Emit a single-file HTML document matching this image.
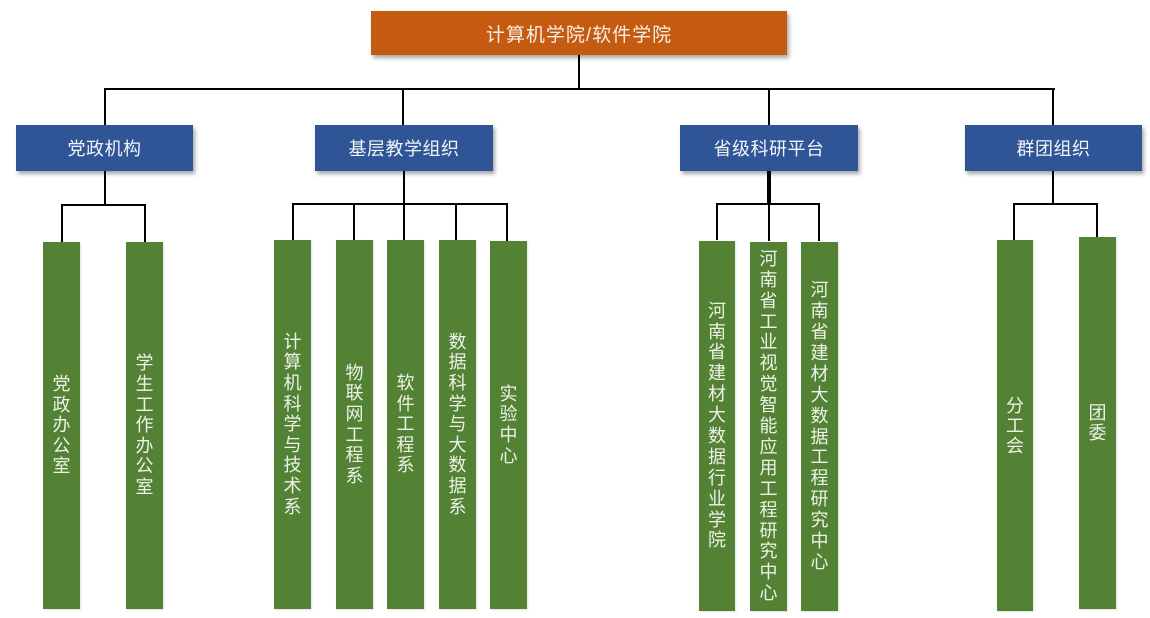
<!DOCTYPE html>
<html>
<head>
<meta charset="utf-8">
<style>
  html,body{margin:0;padding:0;background:#fff;}
  body{width:1150px;height:618px;position:relative;overflow:hidden;
       font-family:"Liberation Sans","Noto Sans CJK SC",sans-serif;}
  .ln{position:absolute;background:#000;}
  .top{position:absolute;left:371px;top:11px;width:416px;height:44px;background:#C55A11;
       box-shadow:2px 3px 4px rgba(0,0,0,0.35);color:#f8efe6;font-size:19px;letter-spacing:1px;
       display:flex;align-items:center;justify-content:center;}
  .blue{position:absolute;top:125px;height:46px;background:#2F5597;
        box-shadow:2px 3px 4px rgba(0,0,0,0.35);color:#f2f4f8;font-size:18px;
        display:flex;align-items:center;justify-content:center;letter-spacing:0.5px;}
  .g{position:absolute;background:#548235;box-shadow:1px 1px 2px rgba(0,0,0,0.12);
     display:flex;align-items:center;justify-content:center;}
  .g span{display:block;width:18px;font-size:18px;color:#edf2e8;word-break:break-all;text-align:center;}
  .a span{line-height:20.6px;}
  .c span{line-height:20px;}
  .v{display:flex;flex-direction:column;align-items:center;color:#edf2e8;font-size:18px;}
  .v i{display:block;font-style:normal;width:18px;text-align:center;overflow:visible;height:20.9px;line-height:20.9px;}
</style>
</head>
<body>
<!-- top box -->
<div class="top">计算机学院/软件学院</div>

<!-- top connectors -->
<div class="ln" style="left:578px;top:55px;width:2px;height:35px;"></div>
<div class="ln" style="left:104px;top:88px;width:951px;height:2px;"></div>
<div class="ln" style="left:104px;top:88px;width:2px;height:37px;"></div>
<div class="ln" style="left:402px;top:88px;width:2px;height:37px;"></div>
<div class="ln" style="left:768px;top:88px;width:2px;height:37px;"></div>
<div class="ln" style="left:1052px;top:88px;width:2px;height:37px;"></div>

<!-- blue boxes -->
<div class="blue" style="left:16px;width:177px;">党政机构</div>
<div class="blue" style="left:315px;width:178px;">基层教学组织</div>
<div class="blue" style="left:680px;width:178px;">省级科研平台</div>
<div class="blue" style="left:965px;width:177px;">群团组织</div>

<!-- 党政 connectors -->
<div class="ln" style="left:104px;top:171px;width:2px;height:35px;"></div>
<div class="ln" style="left:61px;top:204px;width:85px;height:2px;"></div>
<div class="ln" style="left:61px;top:204px;width:2px;height:38px;"></div>
<div class="ln" style="left:144px;top:204px;width:2px;height:38px;"></div>

<!-- 基层 connectors -->
<div class="ln" style="left:403px;top:171px;width:2px;height:34px;"></div>
<div class="ln" style="left:292px;top:203px;width:216px;height:2px;"></div>
<div class="ln" style="left:292px;top:203px;width:2px;height:37px;"></div>
<div class="ln" style="left:353px;top:203px;width:2px;height:38px;"></div>
<div class="ln" style="left:403px;top:203px;width:2px;height:38px;"></div>
<div class="ln" style="left:455px;top:203px;width:2px;height:38px;"></div>
<div class="ln" style="left:506px;top:203px;width:2px;height:38px;"></div>

<!-- 省级 connectors -->
<div class="ln" style="left:767px;top:171px;width:4px;height:34px;"></div>
<div class="ln" style="left:716px;top:203px;width:104px;height:2px;"></div>
<div class="ln" style="left:716px;top:203px;width:2px;height:37px;"></div>
<div class="ln" style="left:768px;top:203px;width:2px;height:38px;"></div>
<div class="ln" style="left:818px;top:203px;width:2px;height:38px;"></div>

<!-- 群团 connectors -->
<div class="ln" style="left:1052px;top:171px;width:2px;height:34px;"></div>
<div class="ln" style="left:1013px;top:203px;width:85px;height:2px;"></div>
<div class="ln" style="left:1013px;top:203px;width:2px;height:37px;"></div>
<div class="ln" style="left:1096px;top:203px;width:2px;height:34px;"></div>

<!-- green boxes: 党政 -->
<div class="g a" style="left:43px;top:242px;width:37px;height:367px;"><span>党政办公室</span></div>
<div class="g a" style="left:126px;top:242px;width:37px;height:367px;"><span>学生工作办公室</span></div>

<!-- green boxes: 基层 -->
<div class="g a" style="left:274px;top:240px;width:37px;height:369px;"><span>计算机科学与技术系</span></div>
<div class="g a" style="left:336px;top:240px;width:37px;height:369px;"><span>物联网工程系</span></div>
<div class="g a" style="left:387px;top:240px;width:37px;height:369px;"><span>软件工程系</span></div>
<div class="g a" style="left:439px;top:240px;width:37px;height:369px;"><span>数据科学与大数据系</span></div>
<div class="g a" style="left:490px;top:241px;width:37px;height:368px;"><span>实验中心</span></div>

<!-- green boxes: 省级 -->
<div class="g" style="left:699px;top:241px;width:36px;height:370px;">
  <div class="v"><i>河</i><i>南</i><i>省</i><i>建</i><i>材</i><i>大</i><i>数</i><i>据</i><i>行</i><i>业</i><i>学</i><i>院</i></div>
</div>
<div class="g" style="left:750px;top:242px;width:37px;height:369px;">
  <div class="v"><i>河</i><i>南</i><i>省</i><i>工</i><i>业</i><i>视</i><i>觉</i><i>智</i><i>能</i><i>应</i><i>用</i><i>工</i><i>程</i><i>研</i><i>究</i><i>中</i><i>心</i></div>
</div>
<div class="g" style="left:801px;top:242px;width:37px;height:369px;">
  <div class="v"><i>河</i><i>南</i><i>省</i><i>建</i><i>材</i><i>大</i><i>数</i><i>据</i><i>工</i><i>程</i><i>研</i><i>究</i><i>中</i><i>心</i></div>
</div>

<!-- green boxes: 群团 -->
<div class="g c" style="left:997px;top:240px;width:36px;height:371px;"><span>分工会</span></div>
<div class="g c" style="left:1079px;top:237px;width:37px;height:372px;"><span>团委</span></div>
</body>
</html>
